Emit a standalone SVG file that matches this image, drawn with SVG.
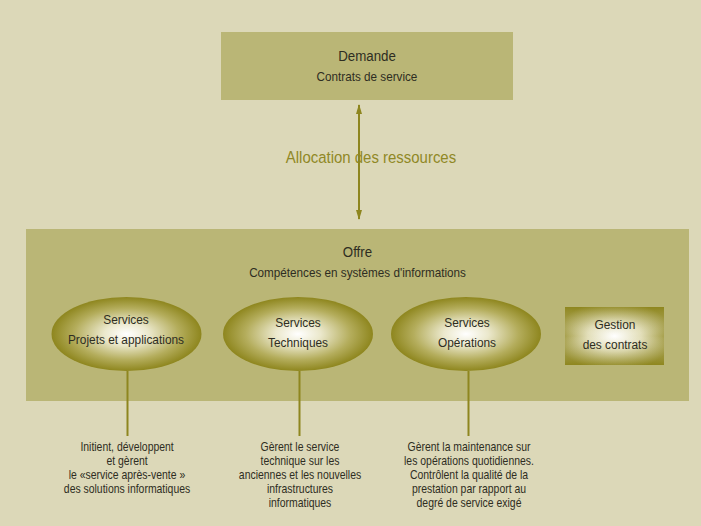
<svg xmlns="http://www.w3.org/2000/svg" width="701" height="526" viewBox="0 0 701 526">
  <style>
    text { font-family: "Liberation Sans", "DejaVu Sans", sans-serif; fill: #2e2d22; text-anchor: middle;
           transform: scaleX(0.86); transform-box: fill-box; transform-origin: center; }
    .title { font-size: 15.5px; transform: scaleX(0.86); }
    .sub { font-size: 13px; transform: scaleX(0.9); }
    .node { font-size: 13.5px; transform: scaleX(0.88); }
    .note { font-size: 12px; transform: scaleX(0.87); }
    .alloc { font-size: 17px; fill: #908826; transform: scaleX(0.88); }
    .panel { fill: #bab676; }
    .stem { stroke: #8e861f; stroke-width: 2; fill: none; }
  </style>
  <defs>
    <radialGradient id="ovalFill" cx="0.5" cy="0.5" r="0.5">
      <stop offset="0" stop-color="#ffffff"/>
      <stop offset="0.3" stop-color="#ebe8cc"/>
      <stop offset="0.7" stop-color="#b4ad5c"/>
      <stop offset="1" stop-color="#8e861e"/>
    </radialGradient>
    <linearGradient id="boxV" x1="0" y1="0" x2="0" y2="1">
      <stop offset="0" stop-color="#8e861e"/>
      <stop offset="0.5" stop-color="#ffffff" stop-opacity="0"/>
      <stop offset="1" stop-color="#8e861e"/>
    </linearGradient>
    <radialGradient id="boxGlow" cx="0.5" cy="0.5" r="0.6">
      <stop offset="0" stop-color="#ffffff"/>
      <stop offset="0.45" stop-color="#e2deb8"/>
      <stop offset="1" stop-color="#8e861e"/>
    </radialGradient>
    <marker id="tip" viewBox="0 0 10 10" refX="9" refY="5" markerWidth="10" markerHeight="6" markerUnits="userSpaceOnUse" orient="auto-start-reverse" preserveAspectRatio="none">
      <path d="M0,0 L10,5 L0,10 Z" fill="#8e861f"/>
    </marker>
  </defs>

  <!-- page background -->
  <rect width="701" height="526" fill="#dcd8b8"/>

  <!-- demand side -->
  <g id="demande">
    <rect class="panel" x="221" y="32" width="292" height="68"/>
    <text class="title" x="367" y="61">Demande</text>
    <text class="sub" x="367" y="81">Contrats de service</text>
  </g>

  <!-- supply side -->
  <g id="offre">
    <rect class="panel" x="26" y="229" width="663" height="172"/>
    <text class="title" x="357.5" y="257">Offre</text>
    <text class="sub" x="357.5" y="277">Compétences en systèmes d'informations</text>
  </g>

  <g id="projets">
    <ellipse cx="126.5" cy="334" rx="75" ry="37" fill="url(#ovalFill)"/>
    <text class="node" x="126" y="324">Services</text>
    <text class="node" x="126" y="344">Projets et applications</text>
  </g>

  <g id="techniques">
    <ellipse cx="298" cy="334" rx="75" ry="37" fill="url(#ovalFill)"/>
    <text class="node" x="298" y="327">Services</text>
    <text class="node" x="298" y="347">Techniques</text>
  </g>

  <g id="operations">
    <ellipse cx="466" cy="334" rx="75" ry="37" fill="url(#ovalFill)"/>
    <text class="node" x="467" y="327">Services</text>
    <text class="node" x="467" y="347">Opérations</text>
  </g>

  <g id="gestion">
    <rect x="565" y="307" width="99" height="58" fill="url(#boxGlow)"/>
    <rect x="565" y="307" width="99" height="58" fill="url(#boxV)" opacity="0.55"/>
    <text class="node" x="615" y="329">Gestion</text>
    <text class="node" x="615" y="349">des contrats</text>
  </g>

  <!-- connectors -->
  <g id="connectors">
    <line class="stem" x1="359" y1="105" x2="359" y2="219" stroke-width="1.6" marker-start="url(#tip)" marker-end="url(#tip)"/>
    <line class="stem" x1="127.5" y1="371" x2="127.5" y2="436"/>
    <line class="stem" x1="299.5" y1="371" x2="299.5" y2="436"/>
    <line class="stem" x1="468.5" y1="371" x2="468.5" y2="436"/>
  </g>

  <text class="alloc" x="371" y="163">Allocation des ressources</text>

  <!-- descriptions under each service -->
  <g id="note-projets">
    <text class="note" x="127" y="451">Initient, développent</text>
    <text class="note" x="127" y="465">et gèrent</text>
    <text class="note" x="127" y="479">le «service après-vente »</text>
    <text class="note" x="127" y="493">des solutions informatiques</text>
  </g>
  <g id="note-techniques">
    <text class="note" x="300" y="451">Gèrent le service</text>
    <text class="note" x="300" y="465">technique sur les</text>
    <text class="note" x="300" y="479">anciennes et les nouvelles</text>
    <text class="note" x="300" y="493">infrastructures</text>
    <text class="note" x="300" y="507">informatiques</text>
  </g>
  <g id="note-operations">
    <text class="note" x="469" y="451">Gèrent la maintenance sur</text>
    <text class="note" x="469" y="465">les opérations quotidiennes.</text>
    <text class="note" x="469" y="479">Contrôlent la qualité de la</text>
    <text class="note" x="469" y="493">prestation par rapport au</text>
    <text class="note" x="469" y="507">degré de service exigé</text>
  </g>
</svg>
